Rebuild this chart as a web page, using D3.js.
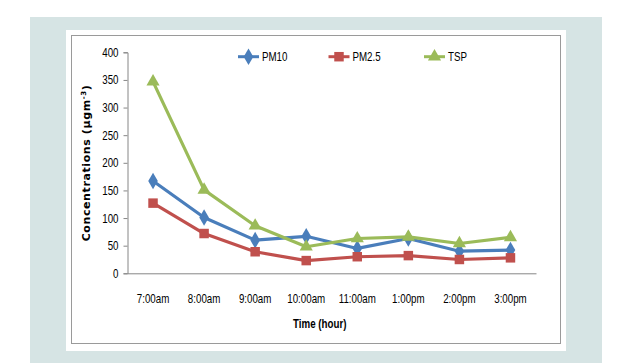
<!DOCTYPE html>
<html>
<head>
<meta charset="utf-8">
<script src="https://cdn.jsdelivr.net/npm/d3@7"></script>
<style>
  body { margin: 0; background: #fff; }
  svg { display: block; }
</style>
</head>
<body>
<script>
"use strict";

const categories = ['7:00am', '8:00am', '9:00am', '10:00am', '11:00am', '1:00pm', '2:00pm', '3:00pm'];
const pm10 = [167, 101, 60, 67, 45, 63, 40, 42];
const pm25 = [127, 72, 39, 23, 30, 32, 25, 28];
const tsp = [347, 151, 86, 48, 63, 66, 54, 65];
const yTicks = [0, 50, 100, 150, 200, 250, 300, 350, 400];

const series = [
    { name: 'PM10', values: pm10, color: '#4a7ebb', marker: d3.symbolDiamond, size: 80 },
    { name: 'PM2.5', values: pm25, color: '#c0504d', marker: d3.symbolSquare, size: 90 },
    { name: 'TSP', values: tsp, color: '#9bbb59', marker: d3.symbolTriangle, size: 75 }
];

const W = 625, H = 363;
const SX = 0.78;  // squeeze text to look like the condensed original
const svg = d3.select('body').append('svg')
    .attr('width', W)
    .attr('height', H);

// backdrop panels
svg.append('rect').attr('x', 30).attr('y', 17).attr('width', 572).attr('height', H - 17).attr('fill', '#d6e4e4');
svg.append('rect').attr('x', 66).attr('y', 30).attr('width', 500).attr('height', 321).attr('fill', '#fff');
svg.append('rect').attr('x', 71.5).attr('y', 35.5).attr('width', 489).attr('height', 308)
    .attr('fill', 'none').attr('stroke', '#9a9a9a').attr('stroke-width', 1);

const plot = { left: 127.5, right: 536, top: 52.3, bottom: 273.3 };

const x = d3.scaleBand().domain(categories).range([plot.left, plot.right]);
const y = d3.scaleLinear().domain([0, 400]).range([plot.bottom, plot.top]);

const font = "'Liberation Sans', Arial, sans-serif";

// y axis
const yAxis = svg.append('g')
    .attr('transform', `translate(${plot.left},0)`)
    .call(d3.axisLeft(y).tickValues(yTicks).tickSize(4).tickPadding(5));
yAxis.select('.domain').attr('stroke', '#868686');
yAxis.selectAll('.tick line').attr('stroke', '#868686');
yAxis.selectAll('text')
    .attr('font-family', font).attr('font-size', 12.5).attr('fill', '#000')
    .attr('x', -9 / SX)
    .attr('transform', `scale(${SX},1)`);

// x axis
const xAxis = svg.append('g')
    .attr('transform', `translate(0,${plot.bottom})`)
    .call(d3.axisBottom(x).tickSize(0).tickPadding(21));
xAxis.select('.domain').attr('stroke', '#868686');
xAxis.selectAll('text')
    .attr('font-family', font).attr('font-size', 12.5).attr('fill', '#000')
    .attr('transform', `scale(${SX},1)`);

// titles
svg.append('text')
    .attr('transform', `translate(${(plot.left + plot.right) / 2 - 12},328) scale(${SX},1)`)
    .attr('text-anchor', 'middle')
    .attr('font-family', font).attr('font-size', 12.5).attr('font-weight', 'bold')
    .text('Time (hour)');

const yTitle = svg.append('text')
    .attr('transform', `translate(90,163) rotate(-90)`)
    .attr('text-anchor', 'middle')
    .attr('font-family', "'DejaVu Sans', Verdana, sans-serif").attr('font-size', 11).attr('font-weight', 'bold')
    .attr('letter-spacing', 0.6)
    .text('Concentrations (µgm');
yTitle.append('tspan').attr('baseline-shift', 'super').attr('font-size', 7).text('-3');
yTitle.append('tspan').text(')');

// lines and markers
const line = d3.line()
    .x((d, i) => x(categories[i]) + x.bandwidth() / 2)
    .y(d => y(d));

series.forEach(s => {
    svg.append('path')
        .attr('d', line(s.values))
        .attr('fill', 'none')
        .attr('stroke', s.color)
        .attr('stroke-width', 3.2)
        .attr('stroke-linejoin', 'round');
    svg.selectAll(null).data(s.values).enter().append('path')
        .attr('d', d3.symbol().type(s.marker).size(s.size))
        .attr('transform', (d, i) => `translate(${x(categories[i]) + x.bandwidth() / 2},${y(d)})`)
        .attr('fill', s.color);
});

// legend
const legendX = [238, 328.5, 424];
const legend = svg.append('g');
series.forEach((s, i) => {
    const g = legend.append('g').attr('transform', `translate(${legendX[i]},56.7)`);
    g.append('line').attr('x1', 0).attr('x2', 21).attr('stroke', s.color).attr('stroke-width', 3);
    g.append('path').attr('d', d3.symbol().type(s.marker).size(s.size)).attr('transform', 'translate(10.5,0)').attr('fill', s.color);
    g.append('text')
        .attr('transform', `translate(24,4.5) scale(${SX},1)`)
        .attr('font-family', font).attr('font-size', 12.5).text(s.name);
});
</script>
</body>
</html>
